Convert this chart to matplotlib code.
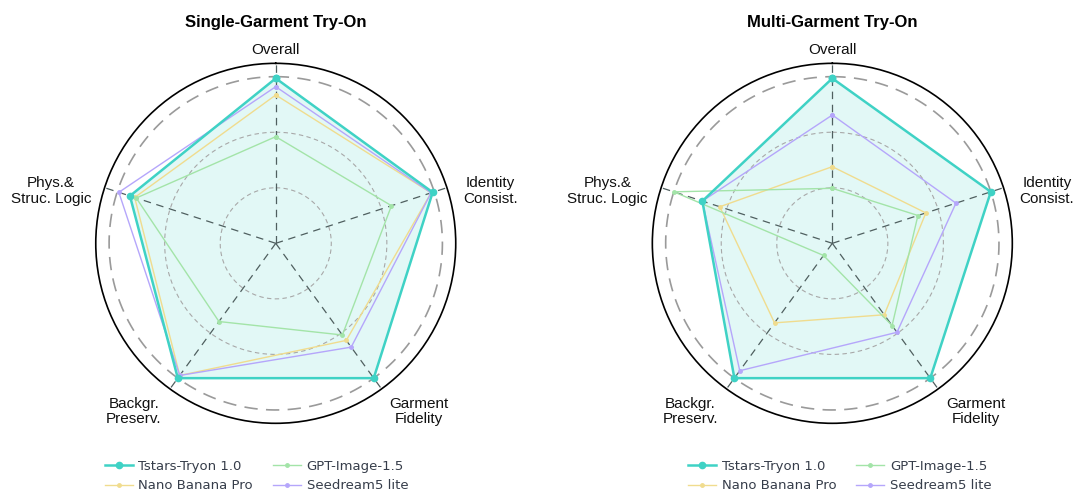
import numpy as np
import matplotlib.pyplot as plt

# axis names, clockwise from the top
categories = ['Overall', 'Identity\nConsist.', 'Garment\nFidelity', 'Backgr.\nPreserv.', 'Phys.&\nStruc. Logic']
models = ['Tstars-Tryon 1.0', 'Nano Banana Pro', 'GPT-Image-1.5', 'Seedream5 lite']

# normalised scores (1.0 = outer dashed ring)
single_tstars = [0.99, 0.99, 1.00, 1.00, 0.92]
single_nano = [0.89, 0.98, 0.72, 0.98, 0.89]
single_gpt = [0.64, 0.73, 0.68, 0.58, 0.88]
single_seed = [0.94, 0.98, 0.77, 0.98, 0.99]

multi_tstars = [0.99, 1.00, 1.00, 1.00, 0.82]
multi_nano = [0.46, 0.59, 0.53, 0.59, 0.71]
multi_gpt = [0.33, 0.54, 0.61, 0.09, 1.00]
multi_seed = [0.77, 0.78, 0.66, 0.945, 0.82]

colors = ['#3fd2c5', '#f0dc8e', '#a3e4a8', '#b5a6fb']
rmax = 1.08

# label placement (compass angle in deg, radius)
label_pos = [(0, 1.16), (76.3, 1.325), (139.5, 1.325), (220.2, 1.318), (283.1, 1.385)]

angles = np.linspace(0, 2 * np.pi, len(categories), endpoint=False)
ring = np.linspace(0, 2 * np.pi, 400)

fig = plt.figure(figsize=(10.78, 4.94), dpi=100)
ax1 = fig.add_axes([0.0888, 0.1431, 0.334, 0.7287], projection='polar')
ax2 = fig.add_axes([0.6051, 0.1431, 0.334, 0.7287], projection='polar')


def radar(ax, title, series, legend_x):
    ax.set_theta_offset(np.pi / 2)
    ax.set_theta_direction(-1)
    ax.set_ylim(0, rmax)
    ax.set_xticks(angles)
    ax.set_xticklabels([])
    ax.set_yticks([])
    ax.xaxis.grid(True, color='#4f5f5f', linewidth=0.9, linestyle=(0, (6, 4.5)))
    ax.spines['polar'].set_color('black')
    ax.spines['polar'].set_linewidth(1.2)

    # rings
    for r in [1 / 3, 2 / 3]:
        ax.plot(ring, np.full_like(ring, r), color='#a8a8a8', linewidth=0.8,
                linestyle=(0, (4, 3)), zorder=1.5)
    ax.plot(ring, np.full_like(ring, 1.0), color='#9a9a9a', linewidth=1.2,
            linestyle=(0, (8, 5)), zorder=1.5)

    ang = np.concatenate([angles, angles[:1]])
    handles = []
    for i, (name, vals) in enumerate(zip(models, series)):
        v = np.concatenate([vals, vals[:1]])
        if i == 0:
            ax.fill(ang, v, color=colors[0], alpha=0.15, zorder=1, linewidth=0)
            h, = ax.plot(ang, v, color=colors[0], linewidth=1.8, marker='o',
                         markersize=4.5, zorder=5, label=name)
        else:
            h, = ax.plot(ang, v, color=colors[i], linewidth=1.0, marker='o',
                         markersize=2.5, zorder=3, label=name)
        handles.append(h)

    for lab, (deg, r) in zip(categories, label_pos):
        ax.text(np.deg2rad(deg), r, lab, ha='center', va='center', fontsize=11,
                family='Liberation Sans', color='#111111', linespacing=1.1,
                clip_on=False)

    ax.set_title(title, fontsize=12, fontweight='bold', family='Liberation Sans', pad=26)

    fig.legend(handles=handles, loc='center', bbox_to_anchor=(legend_x, 1 - 476 / 494),
               ncol=2, frameon=False, fontsize=9.5, labelcolor='#363d4a',
               handlelength=2.1, handletextpad=0.45, columnspacing=1.5,
               labelspacing=0.5)


radar(ax1, 'Single-Garment Try-On', [single_tstars, single_nano, single_gpt, single_seed], 256.5 / 1078)
radar(ax2, 'Multi-Garment Try-On', [multi_tstars, multi_nano, multi_gpt, multi_seed], 840 / 1078)

fig.savefig('out.png', dpi=100)
